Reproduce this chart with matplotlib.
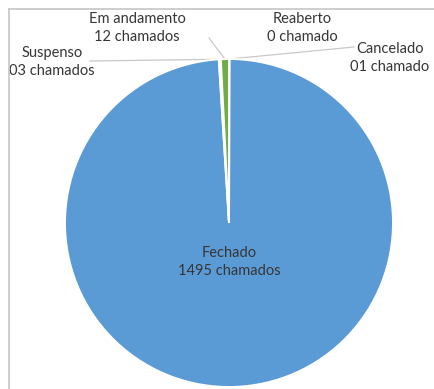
import numpy as np
import matplotlib
matplotlib.use("Agg")
import matplotlib.pyplot as plt
from matplotlib.lines import Line2D

# Ticket status counts (clockwise from 12 o'clock)
categories = ["Cancelado", "Reaberto", "Fechado", "Suspenso", "Em andamento"]
values = [1, 0, 1495, 3, 12]
value_labels = ["01 chamado", "0 chamado", "1495 chamados", "03 chamados", "12 chamados"]
colors = ["#A5A5A5", "#FFC000", "#5B9BD5", "#ED7D31", "#70AD47"]

W, H = 434, 389
fig = plt.figure(figsize=(W / 100, H / 100), dpi=100)
ax = fig.add_axes([0, 0, 1, 1])

cx, cy, r = 229, H - 223, 164
wedges, _ = ax.pie(values, colors=colors, startangle=90, counterclock=False,
                   center=(cx, cy), radius=r, frame=True,
                   wedgeprops=dict(edgecolor="white", linewidth=1.4))
ax.set_xlim(0, W)
ax.set_ylim(0, H)
ax.set_aspect("equal")
ax.axis("off")

# chart area border
fig.add_artist(Line2D([9 / W, 1], [1 - 9 / H, 1 - 9 / H], color="#C6C6C6", lw=1.2))
fig.add_artist(Line2D([9 / W, 9 / W], [0, 1 - 9 / H], color="#C6C6C6", lw=1.2))

txt = dict(fontfamily="Lato", fontsize=10.5, color="#363636", ha="center", va="center",
           linespacing=1.35)

def rim_point(i, frac=1.0):
    w = wedges[i]
    a = np.deg2rad((w.theta1 + w.theta2) / 2)
    return cx + frac * r * np.cos(a), cy + frac * r * np.sin(a)

# label positions in pixels from top-left
label_pos = {
    "Cancelado": (390, 58),
    "Reaberto": (302, 28),
    "Fechado": (229, 262),
    "Suspenso": (52, 62),
    "Em andamento": (137, 28),
}
leader_start = {
    "Cancelado": (354, 47),
    "Suspenso": (90, 61),
    "Em andamento": (209, 38),
}

for i, cat in enumerate(categories):
    lx, ly = label_pos[cat]
    ax.text(lx, H - ly, f"{cat}\n{value_labels[i]}", **txt)
    if cat in leader_start:
        sx, sy = leader_start[cat]
        px, py = rim_point(i)
        ax.plot([sx, px], [H - sy, py], color="#C9C9C9", lw=0.9, zorder=0.5)

fig.savefig("out.png", dpi=100)
